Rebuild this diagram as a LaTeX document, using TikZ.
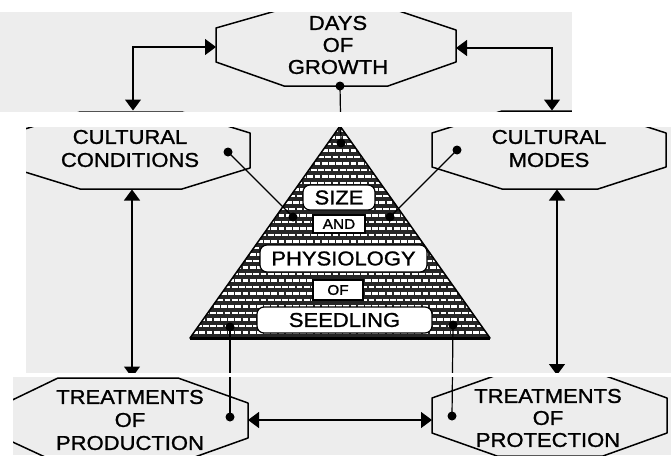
\documentclass[tikz,border=0pt]{standalone}
\usepackage{fontspec}
\setmainfont{Liberation Sans}[FakeStretch=1.1,FakeBold=1.2]
\usetikzlibrary{arrows.meta}
\begin{document}
\begin{tikzpicture}[x=1pt,y=-1pt,
  oct/.style={line width=1.5pt, line join=round},
  conn/.style={line width=1.3pt},
  dbl/.style={{Triangle[length=11pt,width=16pt]}-{Triangle[length=11pt,width=16pt]}},
  dot/.style={circle,fill=black,inner sep=0pt,minimum size=9pt},
  lbl/.style={align=center,font=\fontsize{20}{22}\selectfont,inner sep=0pt},
  lblb/.style={align=center,font=\fontsize{20}{23}\selectfont,inner sep=0pt},
  pbox/.style={draw,fill=white,line width=1.2pt,rounded corners=7pt,inner sep=0pt,font=\fontsize{20}{22}\selectfont},
  sbox/.style={draw,fill=white,line width=1.2pt,inner sep=0pt,font=\fontsize{14}{16}\selectfont},
  scan/.style={fill=black!7},
]
\useasboundingbox (0,0) rectangle (671,455);
% scanned strips
\fill[scan] (0,12) rectangle (572,112);
\fill[scan] (26,127) rectangle (671,373);
\fill[scan] (13,377) rectangle (671,455);

% pyramid
\coordinate (apex) at (340,126);
\coordinate (bl) at (190,338);
\coordinate (br) at (490,338);
\begin{scope}
  \clip (apex) -- (bl) -- (br) -- cycle;
  \fill[black!85] (185,120) rectangle (495,342);
  \foreach \yy [count=\i] in {131,137.5,...,338} {
    \pgfmathsetmacro\ph{mod(\i,2)*3.6}
    \draw[white,line width=2.6pt,dash pattern=on 5.7pt off 1.5pt,dash phase=\ph pt] (185,\yy) -- (495,\yy);
  }
\end{scope}
\draw[line width=1.5pt,line join=round] (apex) -- (bl) -- (br) -- cycle;
\draw[line width=3pt] (bl) -- (br);

% pyramid boxes
\node[pbox,minimum width=72pt,minimum height=25pt] (size) at (339,197.5) {SIZE};
\node[sbox,minimum width=52pt,minimum height=18pt] (and) at (339,224) {AND};
\node[pbox,minimum width=167pt,minimum height=27pt] (phys) at (343.5,258.5) {PHYSIOLOGY};
\node[sbox,minimum width=50pt,minimum height=20pt] (of) at (338,290) {OF};
\node[pbox,minimum width=175pt,minimum height=26pt] (seed) at (344.5,320) {SEEDLING};

% octagons
\draw[oct] (216,28) -- (216,62) -- (284,86) -- (388,86) -- (456,62) -- (456,30) -- (378,4) -- (300,4) -- cycle;
\node[lbl] (dog) at (338,45) {DAYS\\OF\\GROWTH};

\draw[oct] (12,133) -- (12,168) -- (80,189) -- (182,189) -- (250,168) -- (250,133) -- (182,112) -- (80,112) -- cycle;
\node[lblb] (cc) at (130,148.5) {CULTURAL\\CONDITIONS};

\draw[oct] (432,133) -- (432,167) -- (502,189) -- (598,189) -- (666,167) -- (666,133) -- (598,111) -- (502,111) -- cycle;
\node[lblb] (cm) at (549,148.5) {CULTURAL\\MODES};

\draw[oct] (4,404) -- (58,378) -- (178,378) -- (248,403) -- (248,438) -- (178,463) -- (58,463) -- (4,438) -- cycle;
\node[lblb] (tp) at (130,420) {TREATMENTS\\OF\\PRODUCTION};

\draw[oct] (432,398) -- (497,375) -- (603,375) -- (667,398) -- (667,433) -- (603,456) -- (497,456) -- (432,433) -- cycle;
\node[lbl] (tq) at (548,418) {TREATMENTS\\OF\\PROTECTION};

% connection points
\coordinate (dogW) at (216,47);
\coordinate (dogE) at (456,48);
\coordinate (ccN) at (133,110.5);
\coordinate (cmN) at (552,110.5);
\coordinate (ccS) at (132,189.5);
\coordinate (tpN) at (132,377.5);
\coordinate (cmS) at (557,189.5);
\coordinate (tqN) at (557,375);
\coordinate (tpE) at (248,420);
\coordinate (tqW) at (432,420);

% dots
\node[dot] (dDog) at (340,86) {};
\node[dot] (pTop) at (341,143) {};
\node[dot] (dCC) at (228,152) {};
\node[dot] (pL) at (293,217) {};
\node[dot] (dCM) at (457,150) {};
\node[dot] (pR) at (390,217) {};
\node[dot] (dTP) at (230,417) {};
\node[dot] (pBL) at (230,327) {};
\node[dot] (dTQ) at (452,416) {};
\node[dot] (pBR) at (453,325) {};

% connectors
\draw[conn,dbl] (ccN) |- (dogW);
\draw[conn,dbl] (cmN) |- (dogE);
\draw[conn,dbl] (ccS) -- (tpN);
\draw[conn,dbl] (cmS) -- (tqN);
\draw[conn,dbl] (tpE) -- (tqW);
\draw[line width=1.2pt] (dDog.center) -- (pTop.center);
\draw[line width=1.2pt] (dCC.center) -- (pL.center);
\draw[line width=1.2pt] (dCM.center) -- (pR.center);
\draw[line width=1.2pt] (dTP.center) -- (pBL.center);
\draw[line width=1.2pt] (dTQ.center) -- (pBR.center);

% white gaps of the scan
\fill[white] (0,0) rectangle (671,12);
\fill[white] (0,112) rectangle (671,127);
\fill[white] (0,373) rectangle (671,377);
\fill[white] (572,12) rectangle (671,112);
\fill[white] (0,127) rectangle (26,373);
\fill[white] (0,377) rectangle (13,455);
\end{tikzpicture}
\end{document}
